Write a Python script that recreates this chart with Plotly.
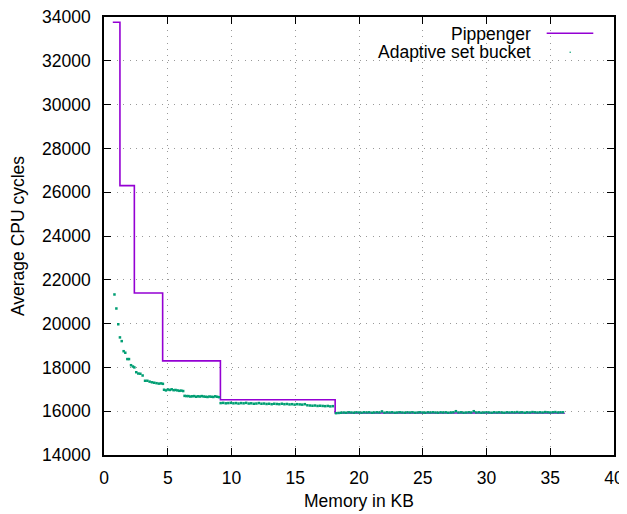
import plotly.graph_objects as go

# Pippenger (step line, gnuplot "steps")
pip_x = [0.69, 1.25, 2.38, 4.6, 9.13, 18.13, 36.1]
pip_y = [33760, 26300, 21400, 18300, 16520, 15915, 15920]

# Adaptive set bucket (dots)
ada_x = [0.82, 0.97, 1.12, 1.25, 1.39, 1.54, 1.67, 1.83, 1.96, 2.12, 2.27, 2.38,
         2.53, 2.69, 2.85, 3.03, 3.22, 3.40, 3.58, 3.76, 3.94, 4.12, 4.30, 4.48, 4.62,
         4.71, 4.86, 5.01, 5.16, 5.31, 5.46, 5.61, 5.76, 5.91, 6.06, 6.21,
         6.32, 6.47, 6.62, 6.77, 6.92, 7.07, 7.22, 7.37, 7.52, 7.67, 7.82, 7.97, 8.12,
         8.27, 8.42, 8.57, 8.72, 8.87, 9.02,
         9.15, 9.35, 9.55, 9.75, 9.95, 10.15, 10.35, 10.55, 10.75, 10.95, 11.15, 11.35,
         11.55, 11.75, 11.95, 12.15, 12.35, 12.55, 12.75, 12.95, 13.15, 13.35, 13.55,
         13.75, 13.95, 14.15, 14.35, 14.55, 14.75, 14.95, 15.15, 15.35, 15.55, 15.75,
         15.95, 16.15, 16.35, 16.55, 16.75, 16.95, 17.15, 17.35, 17.55, 17.75, 17.95,
         18.2, 18.4, 18.6, 18.8, 19.0, 19.2, 19.4, 19.6, 19.8, 20.0,
         20.2, 20.4, 20.6, 20.8, 21.0, 21.2, 21.4, 21.6, 21.8, 22.0,
         22.2, 22.4, 22.6, 22.8, 23.0, 23.2, 23.4, 23.6, 23.8, 24.0,
         24.2, 24.4, 24.6, 24.8, 25.0, 25.2, 25.4, 25.6, 25.8, 26.0,
         26.2, 26.4, 26.6, 26.8, 27.0, 27.2, 27.4, 27.6, 27.8, 28.0,
         28.2, 28.4, 28.6, 28.8, 29.0, 29.2, 29.4, 29.6, 29.8, 30.0,
         30.2, 30.4, 30.6, 30.8, 31.0, 31.2, 31.4, 31.6, 31.8, 32.0,
         32.2, 32.4, 32.6, 32.8, 33.0, 33.2, 33.4, 33.6, 33.8, 34.0,
         34.2, 34.4, 34.6, 34.8, 35.0, 35.2, 35.4, 35.6, 35.8, 36.0]
ada_y = [21330, 20690, 19970, 19370, 19200, 18740, 18670, 18380, 18380, 18100, 18040, 18000,
         17780, 17720, 17710, 17630, 17390, 17390, 17350, 17320, 17300, 17280, 17260, 17270, 17250,
         16980, 16950, 16990, 16970, 17000, 16960, 16970, 16950, 16930, 16940, 16920,
         16700, 16690, 16690, 16670, 16680, 16690, 16660, 16680, 16670, 16690, 16670, 16660, 16650,
         16670, 16660, 16650, 16680, 16660, 16640,
         16370, 16380, 16360, 16370, 16380, 16360, 16370, 16350, 16370, 16360, 16380, 16350,
         16360, 16340, 16350, 16370, 16340, 16350, 16330, 16340, 16320, 16340, 16330,
         16320, 16340, 16320, 16330, 16310, 16320, 16300, 16320, 16310, 16300, 16320,
         16270, 16260, 16250, 16260, 16240, 16250, 16240, 16230, 16240, 16220, 16230,
         15910, 15920, 15930, 15940, 15930, 15950, 15940, 15930, 15950, 15940,
         15930, 15950, 15940, 15950, 15930, 15940, 15950, 15940, 15990, 15930,
         15950, 15940, 15950, 15930, 15940, 15950, 15940, 15930, 15950, 15940,
         15950, 15930, 15940, 15950, 15940, 15930, 15950, 15940, 15950, 15940,
         15930, 15950, 15940, 15950, 15930, 15940, 15950, 16000, 15940, 15950,
         15930, 15940, 15950, 15940, 16000, 15940, 15950, 15930, 15940, 15950,
         15940, 15930, 15950, 15940, 15950, 15940, 15930, 15950, 15940, 15950,
         15940, 15960, 15940, 15950, 15930, 15950, 15940, 15960, 15950, 15940,
         15950, 15940, 15960, 15950, 15940, 15950, 15960, 15940, 15950, 15950]

x_ticks = [0, 5, 10, 15, 20, 25, 30, 35, 40]
y_ticks = [14000, 16000, 18000, 20000, 22000, 24000, 26000, 28000, 30000, 32000, 34000]

PURPLE = "#9400D3"
GREEN = "#009E73"
FONT = "Liberation Sans"
FS = 17.5

fig = go.Figure()
fig.add_trace(go.Scatter(x=pip_x, y=pip_y, mode="lines", line_shape="hv",
                         line=dict(color=PURPLE, width=1.6), name="Pippenger",
                         showlegend=False))
fig.add_trace(go.Scatter(x=ada_x, y=ada_y, mode="markers",
                         marker=dict(color=GREEN, size=2.5, symbol="square", line=dict(width=0)),
                         name="Adaptive set bucket", showlegend=False))

axis_common = dict(
    showline=True, linecolor="black", linewidth=1.5, mirror="ticks",
    ticks="inside", ticklen=7, tickwidth=1, tickcolor="black",
    showgrid=True, gridcolor="#999999", gridwidth=1, griddash="1px,5.4px",
    zeroline=False, automargin=False, ticklabeloverflow="allow",
    tickfont=dict(family=FONT, size=FS, color="black"),
)

fig.update_xaxes(range=[0, 40], tickvals=x_ticks, ticktext=[str(v) for v in x_ticks],
                 title=dict(text="Memory in KB", font=dict(family=FONT, size=FS, color="black"),
                            standoff=8),
                 ticklabelstandoff=6, **axis_common)
fig.update_yaxes(range=[14000, 34000], tickvals=y_ticks, ticktext=[str(v) for v in y_ticks],
                 title=dict(text="Average CPU cycles", font=dict(family=FONT, size=FS, color="black"),
                            standoff=14),
                 ticklabelstandoff=8, **axis_common)

# legend (gnuplot style: text right-aligned, sample to the right)
fig.add_shape(type="rect", xref="paper", yref="paper", x0=0.476, x1=0.982, y0=0.896, y1=0.985,
              fillcolor="white", line=dict(width=0), layer="between")
fig.add_shape(type="line", xref="paper", yref="paper", x0=0.868, x1=0.9594, y0=0.963, y1=0.963,
              line=dict(color=PURPLE, width=1.6))
fig.add_shape(type="rect", xref="paper", yref="paper", x0=0.9127, x1=0.9157, y0=0.9184, y1=0.9208,
              fillcolor=GREEN, line=dict(width=0))
fig.add_annotation(xref="paper", yref="paper", x=0.8418, y=0.9623, text="Pippenger",
                   showarrow=False, xanchor="right", yanchor="middle",
                   font=dict(family=FONT, size=FS, color="black"))
fig.add_annotation(xref="paper", yref="paper", x=0.8418, y=0.9196, text="Adaptive set bucket",
                   showarrow=False, xanchor="right", yanchor="middle",
                   font=dict(family=FONT, size=FS, color="black"))

# the page body adds an 8px offset, so the figure is 8px smaller and margins shifted
fig.update_layout(
    width=619, height=506,
    margin=dict(l=96, r=13, t=9, b=59, pad=0),
    plot_bgcolor="white", paper_bgcolor="white",
    font=dict(family=FONT, size=FS, color="black"),
)

fig.write_html("out.html")
